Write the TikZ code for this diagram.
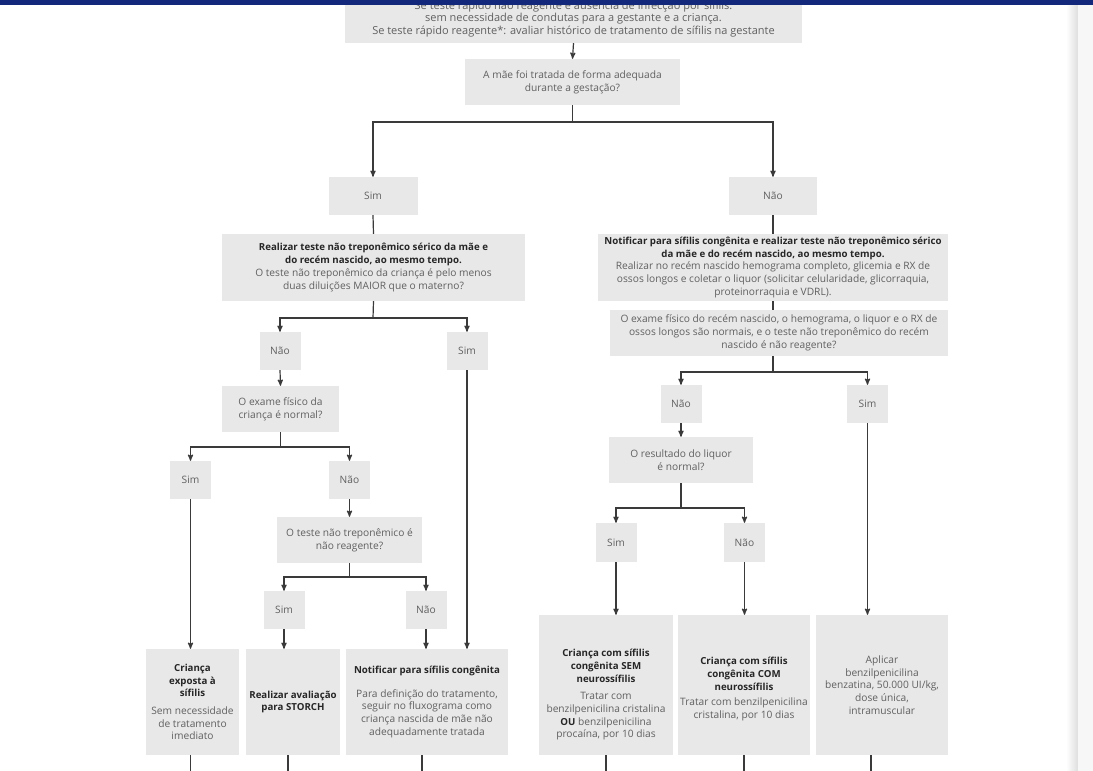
\documentclass[tikz,border=0pt]{standalone}
\usepackage{fontspec}
\setmainfont{Open Sans}
\usetikzlibrary{arrows}
\definecolor{cinza}{HTML}{E8E8E8}
\definecolor{texto}{HTML}{606060}
\definecolor{escuro}{HTML}{262626}
\definecolor{traco}{HTML}{3A3A3A}
\definecolor{azul}{HTML}{13287B}
\newcommand{\negrito}[1]{{\fontsize{9.7bp}{12.7bp}\selectfont\bfseries\color{escuro}#1}}
\tikzset {
caixa/.style={shape=rectangle,fill=cinza,inner sep=0pt,align=center,text=texto,font=\fontsize{10.2bp}{12.7bp}\selectfont},
resposta/.style={caixa,minimum width=41bp,minimum height=38bp},
linha/.style={draw=traco,line width=1.2bp}
}
\begin{document}
\begin{tikzpicture}
[>=stealth',x=1bp,y=-1bp]
\useasboundingbox (0,0) rectangle (1093,771);
\node[caixa,minimum width=457bp,minimum height=48bp,font=\fontsize{11bp}{12.7bp}\selectfont] (topo) at (573.5,19) {Se teste rápido não reagente e ausência de infecção por sífilis:\\ sem necessidade de condutas para a gestante e a criança.\\ Se teste rápido reagente*: avaliar histórico de tratamento de sífilis na gestante};
\node[caixa,minimum width=215bp,minimum height=46bp] (mae) at (572.5,82) {A mãe foi tratada de forma adequada\\ durante a gestação?};
\node[resposta,minimum width=89bp] (sim1) at (373,196) {Sim};
\node[resposta,minimum width=88bp] (nao1) at (773,196) {Não};
\node[caixa,minimum width=303bp,minimum height=67bp] (realizar) at (373.5,267.5) {\negrito{Realizar teste não treponêmico sérico da mãe e}\\ \negrito{do recém nascido, ao mesmo tempo.}\\ O teste não treponêmico da criança é pelo menos\\ duas diluições MAIOR que o materno?};
\node[caixa,minimum width=350bp,minimum height=67bp] (notificar) at (773,267.5) {\negrito{Notificar para sífilis congênita e realizar teste não treponêmico sérico}\\ \negrito{da mãe e do recém nascido, ao mesmo tempo.}\\ Realizar no recém nascido hemograma completo, glicemia e RX de\\ ossos longos e coletar o liquor (solicitar celularidade, glicorraquia,\\ proteinorraquia e VDRL).};
\node[caixa,minimum width=338bp,minimum height=46bp] (exame) at (779,333) {O exame físico do recém nascido, o hemograma, o liquor e o RX de\\ ossos longos são normais, e o teste não treponêmico do recém\\ nascido é não reagente?};
\node[resposta] (nao2) at (280,351) {Não};
\node[resposta] (sim2) at (467,351) {Sim};
\node[caixa,minimum width=117bp,minimum height=46bp] (fisico) at (280.5,409) {O exame físico da\\ criança é normal?};
\node[resposta] (sim3) at (190.5,480) {Sim};
\node[resposta] (nao3) at (349.5,480) {Não};
\node[caixa,minimum width=145bp,minimum height=46bp] (teste) at (349.5,540) {O teste não treponêmico é\\ não reagente?};
\node[resposta] (sim4) at (284,610) {Sim};
\node[resposta] (nao4) at (426,610) {Não};
\node[caixa,minimum width=93bp,minimum height=106bp] (exposta) at (192.5,702) {\negrito{Criança}\\ \negrito{exposta à}\\ \negrito{sífilis}\\[5bp] Sem necessidade\\ de tratamento\\ imediato};
\node[caixa,minimum width=94bp,minimum height=106bp] (storch) at (293,702) {\negrito{Realizar avaliação}\\ \negrito{para STORCH}};
\node[caixa,minimum width=162bp,minimum height=106bp] (notif2) at (427,702) {\negrito{Notificar para sífilis congênita}\\[11bp] Para definição do tratamento,\\ seguir no fluxograma como\\ criança nascida de mãe não\\ adequadamente tratada};
\node[resposta] (nao5) at (681,404) {Não};
\node[resposta] (sim5) at (867.5,404) {Sim};
\node[caixa,minimum width=144bp,minimum height=46bp] (liquor) at (681,460) {O resultado do liquor\\ é normal?};
\node[resposta,minimum height=39bp] (sim6) at (616,542.5) {Sim};
\node[resposta,minimum height=39bp] (nao6) at (744.5,542.5) {Não};
\node[caixa,minimum width=134bp,minimum height=140bp] (semneuro) at (606,685) {\rule{0pt}{27bp}\negrito{Criança com sífilis}\\ \negrito{congênita SEM}\\ \negrito{neurossífilis}\\[5bp] Tratar com\\ benzilpenicilina cristalina\\ \negrito{OU} benzilpenicilina\\ procaína, por 10 dias};
\node[caixa,minimum width=132bp,minimum height=140bp] (comneuro) at (744,685) {\rule{0pt}{16bp}\negrito{Criança com sífilis}\\ \negrito{congênita COM}\\ \negrito{neurossífilis}\\[3bp] Tratar com benzilpenicilina\\ cristalina, por 10 dias};
\node[caixa,minimum width=132bp,minimum height=140bp] (benza) at (882,685) {Aplicar\\ benzilpenicilina\\ benzatina, 50.000 UI/kg,\\ dose única,\\ intramuscular};
\fill[azul] (0,0) rectangle (1093,5.5);
\shade[left color=white,right color=black!13] (1066,5.5) rectangle (1078,771);
\fill[black!3] (1078,5.5) rectangle (1093,771);
\coordinate (j0) at (572.5,122);
\coordinate (j1) at (373,318);
\coordinate (j2) at (280.5,447);
\coordinate (j3) at (349.5,577);
\coordinate (j4) at (773,372);
\coordinate (j5) at (681,508);
\coordinate (fim) at (0,775);
\draw[linha,->] (topo.south) -- (mae.north);
\draw[linha] (mae.south) -- (j0);
\draw[linha,->] (j0) -| (sim1.north);
\draw[linha,->] (j0) -| (nao1.north);
\draw[linha] (sim1.south) -- (realizar.north);
\draw[linha] (nao1.south) -- (notificar.north);
\draw[linha] (realizar.south) -- (j1);
\draw[linha,->] (j1) -| (nao2.north);
\draw[linha,->] (j1) -| (sim2.north);
\draw[linha,->] (nao2.south) -- (fisico.north);
\draw[linha] (fisico.south) -- (j2);
\draw[linha,->] (j2) -| (sim3.north);
\draw[linha,->] (j2) -| (nao3.north);
\draw[linha,->] (sim3.south) -- (sim3.south |- exposta.north);
\draw[linha,->] (nao3.south) -- (teste.north);
\draw[linha] (teste.south) -- (j3);
\draw[linha,->] (j3) -| (sim4.north);
\draw[linha,->] (j3) -| (nao4.north);
\draw[linha,->] (sim4.south) -- (sim4.south |- storch.north);
\draw[linha,->] (nao4.south) -- (nao4.south |- notif2.north);
\draw[linha,->] (sim2.south) -- (sim2.south |- notif2.north);
\draw[linha] (notificar.south) -- (notificar.south |- exame.north);
\draw[linha] (j4 |- exame.south) -- (j4);
\draw[linha,->] (j4) -| (nao5.north);
\draw[linha,->] (j4) -| (sim5.north);
\draw[linha,->] (nao5.south) -- (liquor.north);
\draw[linha] (liquor.south) -- (j5);
\draw[linha,->] (j5) -| (sim6.north);
\draw[linha,->] (j5) -| (nao6.north);
\draw[linha,->] (sim6.south) -- (sim6.south |- semneuro.north);
\draw[linha,->] (nao6.south) -- (nao6.south |- comneuro.north);
\draw[linha,->] (sim5.south) -- (sim5.south |- benza.north);
\draw[linha] (sim3.south |- exposta.south) -- (sim3.south |- fim);
\draw[linha] ([xshift=-5bp]storch.south) -- ([xshift=-5bp]storch.south |- fim);
\draw[linha] ([xshift=-5bp]notif2.south) -- ([xshift=-5bp]notif2.south |- fim);
\draw[linha] (semneuro.south) -- (semneuro.south |- fim);
\draw[linha] (comneuro.south) -- (comneuro.south |- fim);
\draw[linha] ([xshift=-11bp]benza.south) -- ([xshift=-11bp]benza.south |- fim);
\end{tikzpicture}
\end{document}
